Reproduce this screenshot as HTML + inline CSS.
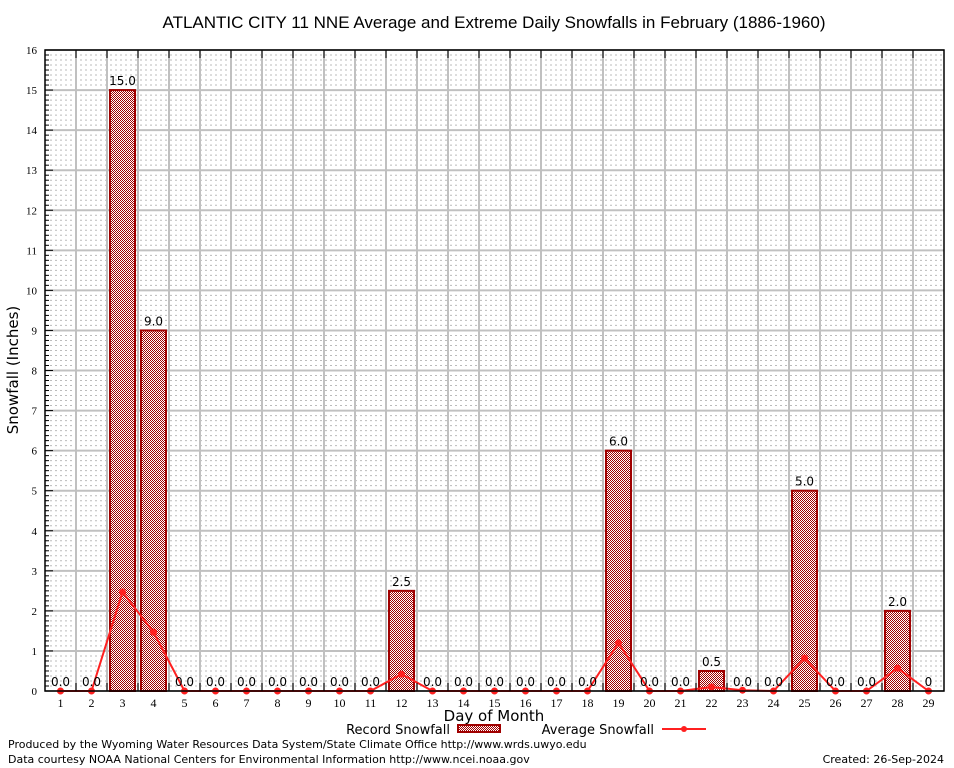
<!DOCTYPE html>
<html><head><meta charset="utf-8"><style>
body{margin:0;background:#fff;}
svg{display:block;font-family:"DejaVu Sans","Liberation Sans",sans-serif;}
</style></head><body>
<svg id="chart" width="954" height="768">
<defs>
<pattern id="hatch" width="2" height="2" patternUnits="userSpaceOnUse">
<rect width="2" height="2" fill="#fff"/><rect width="1" height="1" fill="#a00000"/><rect x="1" y="1" width="1" height="1" fill="#a00000"/>
</pattern>
</defs>
<rect width="954" height="768" fill="#fff"/>
<text x="494" y="28" font-size="17" text-anchor="middle" font-family="Liberation Sans, sans-serif">ATLANTIC CITY 11 NNE Average and Extreme Daily Snowfalls in February (1886-1960)</text>
<g id="grid"></g><g id="bars"></g><g id="line"></g><g id="labels"></g><g id="axes"></g>
<text x="18" y="370" font-size="15" text-anchor="middle" transform="rotate(-90 18 370)">Snowfall (Inches)</text>
<text x="494" y="721" font-size="15" text-anchor="middle">Day of Month</text>
<g>
<text x="450" y="734" font-size="13" text-anchor="end">Record Snowfall</text>
<rect x="458" y="725" width="42" height="7" fill="url(#hatch)" stroke="#a00000" stroke-width="2"/>
<text x="654" y="734" font-size="13" text-anchor="end">Average Snowfall</text>
<line x1="662" y1="729" x2="706" y2="729" stroke="#ff2020" stroke-width="2"/>
<circle cx="684" cy="729" r="3" fill="#ff2020"/>
</g>
<text x="8" y="748" font-size="11">Produced by the Wyoming Water Resources Data System/State Climate Office http://www.wrds.uwyo.edu</text>
<text x="8" y="763" font-size="11">Data courtesy NOAA National Centers for Environmental Information http://www.ncei.noaa.gov</text>
<text x="944" y="763" font-size="11" text-anchor="end">Created: 26-Sep-2024</text>
</svg>
<script>
const days=[1,2,3,4,5,6,7,8,9,10,11,12,13,14,15,16,17,18,19,20,21,22,23,24,25,26,27,28,29];
const recordVals=[0,0,15,9,0,0,0,0,0,0,0,2.5,0,0,0,0,0,0,6,0,0,0.5,0,0,5,0,0,2,0];
const avgVals=[0,0,2.47,1.47,0,0,0,0,0,0,0,0.42,0,0,0,0,0,0,1.2,0,0,0.1,0.02,0,0.82,0,0,0.57,0];
const recordLabels=["0.0","0.0","15.0","9.0","0.0","0.0","0.0","0.0","0.0","0.0","0.0","2.5","0.0","0.0","0.0","0.0","0.0","0.0","6.0","0.0","0.0","0.5","0.0","0.0","5.0","0.0","0.0","2.0","0"];
const yTicks=[0,1,2,3,4,5,6,7,8,9,10,11,12,13,14,15,16];
const L=45,R=944,T=50,B=691,yMax=16,SUB=8;
const x=d=>L+(d-0.5)*(R-L)/29;
const y=v=>B-v*(B-T)/yMax;
const NS="http://www.w3.org/2000/svg";
function mk(tag,attrs,parent,txt){const e=document.createElementNS(NS,tag);for(const k in attrs)e.setAttribute(k,attrs[k]);if(txt!==undefined)e.textContent=txt;parent.appendChild(e);return e;}
const grid=document.getElementById('grid'),bars=document.getElementById('bars'),line=document.getElementById('line'),labels=document.getElementById('labels'),axes=document.getElementById('axes');
for(let k=1;k<yMax*SUB;k++){if(k%SUB===0)continue;const v=k/SUB;
 const l=mk('line',{x1:L,x2:R,y1:y(v),y2:y(v),stroke:'#bbb','stroke-width':1,'stroke-dasharray':'2,3'},grid);
 
 
 const mt=mk('line',{x1:L,x2:L+4,y1:y(v),y2:y(v),stroke:'#000'},axes);
 
 }
yTicks.forEach(v=>{const l=mk('line',{x1:L,x2:R,y1:y(v),y2:y(v),stroke:'#c0c0c0','stroke-width':2},grid);
 
 
 const t=mk('text',{x:L-8,y:y(v)+4,'font-size':11,'text-anchor':'end','font-family':'Liberation Serif, serif'},axes,String(v));
 
 
 const tk=mk('line',{x1:L,x2:L+8,y1:y(v),y2:y(v),stroke:'#000'},axes);
 
 
});
days.forEach((d,i)=>{
 if(i<days.length-1){const g=mk('line',{x1:x(d+0.5),x2:x(d+0.5),y1:T,y2:B,stroke:'#c0c0c0','stroke-width':2},grid);
  
  
  const tk=mk('line',{x1:x(d+0.5),x2:x(d+0.5),y1:B,y2:B-8,stroke:'#000'},axes);
  
  
  const tk2=mk('line',{x1:x(d+0.5),x2:x(d+0.5),y1:T,y2:T+8,stroke:'#000'},axes);
  
  }
 const t=mk('text',{x:x(d),y:B+16,'font-size':12,'text-anchor':'middle','font-family':'Liberation Serif, serif'},axes,String(d));
 
 
 const v=recordVals[i];
 if(v>0){const b=mk('rect',{x:x(d)-12.5,y:y(v),width:25,height:B-y(v),fill:'url(#hatch)',stroke:'#a00000','stroke-width':2},bars);
  
  }
 const lb=mk('text',{x:x(d),y:y(v)-5,'font-size':12,'text-anchor':'middle'},labels,recordLabels[i]);
 
 
});
const pts=days.map((d,i)=>x(d)+','+y(avgVals[i])).join(' ');
const pl=mk('polyline',{points:pts,fill:'none',stroke:'#ff2020','stroke-width':2},line);


days.forEach((d,i)=>{const c=mk('circle',{cx:x(d),cy:y(avgVals[i]),r:3.5,fill:'#ff2020'},line);
 
 });
const fr=mk('rect',{x:L,y:T,width:R-L,height:B-T,fill:'none',stroke:'#000','stroke-width':1.5},axes);


</script>
</body></html>
